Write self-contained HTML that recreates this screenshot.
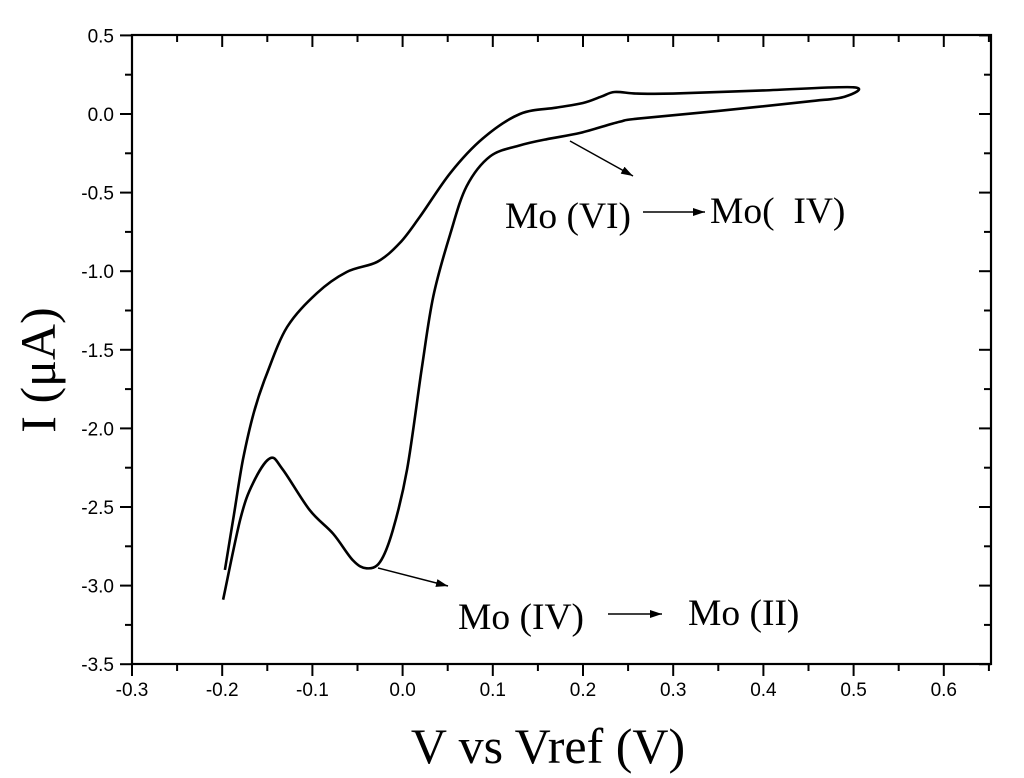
<!DOCTYPE html>
<html><head><meta charset="utf-8"><style>
html,body{margin:0;padding:0;background:#fff;}
svg{display:block;}
.t{font-family:"Liberation Sans",sans-serif;font-size:19px;fill:#000;}
.s{font-family:"Liberation Serif",serif;fill:#000;}
</style></head><body>
<svg id="c" width="1024" height="778">
<defs><marker id="ah" markerWidth="12" markerHeight="8" refX="12" refY="4" orient="auto" markerUnits="userSpaceOnUse"><path d="M0,0 L12,4 L0,8 z" fill="#000"/></marker></defs>
<g id="axes"></g>
<path id="curve" fill="none" stroke="#000" stroke-width="2.6" stroke-linejoin="round"/>
<line x1="570" y1="141" x2="633" y2="176" stroke="#000" stroke-width="1.5" marker-end="url(#ah)"/>
<text class="s" x="505" y="228" font-size="37.5">Mo (VI)</text>
<line x1="643" y1="212" x2="705" y2="212" stroke="#000" stroke-width="1.5" marker-end="url(#ah)"/>
<text class="s" x="710" y="223" font-size="37.5" xml:space="preserve">Mo(  IV)</text>
<line x1="378" y1="568" x2="448" y2="586" stroke="#000" stroke-width="1.5" marker-end="url(#ah)"/>
<text class="s" x="458" y="629" font-size="37.5">Mo (IV)</text>
<line x1="608" y1="614" x2="662" y2="614" stroke="#000" stroke-width="1.5" marker-end="url(#ah)"/>
<text class="s" x="688" y="625" font-size="37.5">Mo (II)</text>
<text class="s" x="548" y="763" font-size="50" text-anchor="middle">V vs Vref (V)</text>
<text class="s" x="0" y="0" font-size="50" text-anchor="middle" transform="translate(55,370) rotate(-90)">I (μA)</text>
</svg>
<script>
const xTicks=[-0.3,-0.2,-0.1,0.0,0.1,0.2,0.3,0.4,0.5,0.6];
const xTickLabels=["-0.3","-0.2","-0.1","0.0","0.1","0.2","0.3","0.4","0.5","0.6"];
const yTicks=[0.5,0.0,-0.5,-1.0,-1.5,-2.0,-2.5,-3.0,-3.5];
const yTickLabels=["0.5","0.0","-0.5","-1.0","-1.5","-2.0","-2.5","-3.0","-3.5"];
const cvV=[-0.197,-0.187,-0.177,-0.165,-0.151,-0.128,-0.095,-0.062,-0.028,-0.003,0.019,0.053,0.089,0.13,0.17,0.2,0.22,0.235,0.26,0.3,0.4,0.5,0.49,0.45,0.35,0.26,0.24,0.197,0.16,0.13,0.097,0.071,0.053,0.034,0.021,0.005,-0.011,-0.025,-0.04,-0.055,-0.077,-0.103,-0.133,-0.147,-0.166,-0.18,-0.199];
const cvI=[-2.9,-2.55,-2.2,-1.9,-1.66,-1.355,-1.14,-1.005,-0.94,-0.82,-0.655,-0.375,-0.155,0.0,0.04,0.07,0.11,0.14,0.13,0.13,0.15,0.17,0.11,0.08,0.02,-0.03,-0.05,-0.12,-0.16,-0.2,-0.27,-0.46,-0.76,-1.16,-1.63,-2.26,-2.65,-2.85,-2.89,-2.84,-2.67,-2.52,-2.26,-2.19,-2.35,-2.58,-3.09];
const L=132,R=991,T=35,B=664;
const X=v=>L+(v+0.3)*902;
const Y=v=>114-v*157.2;
const NS="http://www.w3.org/2000/svg";
const ax=document.getElementById('axes');
function ln(x1,y1,x2,y2,w,n){const e=document.createElementNS(NS,'line');e.setAttribute('x1',x1);e.setAttribute('y1',y1);e.setAttribute('x2',x2);e.setAttribute('y2',y2);e.setAttribute('stroke','#000');e.setAttribute('stroke-width',w);


ax.appendChild(e);}
function tx(x,y,s,a,n){const e=document.createElementNS(NS,'text');e.setAttribute('x',x);e.setAttribute('y',y);e.setAttribute('class','t');e.setAttribute('text-anchor',a);e.textContent=s;


ax.appendChild(e);}
const fr=document.createElementNS(NS,'rect');fr.setAttribute('x',L);fr.setAttribute('y',T);fr.setAttribute('width',R-L);fr.setAttribute('height',B-T);fr.setAttribute('fill','none');fr.setAttribute('stroke','#000');fr.setAttribute('stroke-width',2.2);


ax.appendChild(fr);
xTicks.forEach((v,i)=>{const x=X(v);ln(x,B,x,B+12,2,'x-tick');ln(x,T,x,T+12,2,'x-tick-top');tx(x,B+32,xTickLabels[i],'middle','x-tick-label');
const xm=X(v+0.05);if(xm<R){ln(xm,B,xm,B+7,2,'x-minor-tick');ln(xm,T,xm,T+7,2,'x-minor-tick-top');}});
yTicks.forEach((v,i)=>{const y=Y(v);ln(L-12,y,L,y,2,'y-tick');ln(R-12,y,R,y,2,'y-tick-right');tx(L-18,y+7,yTickLabels[i],'end','y-tick-label');
if(v>-3.5){const ym=Y(v-0.25);ln(L-7,ym,L,ym,2,'y-minor-tick');ln(R-7,ym,R,ym,2,'y-minor-tick-right');}});
const P=cvV.map((v,i)=>[X(v),Y(cvI[i])]);
let d='M'+P[0][0].toFixed(1)+','+P[0][1].toFixed(1);
for(let i=0;i<P.length-1;i++){const p0=P[Math.max(i-1,0)],p1=P[i],p2=P[i+1],p3=P[Math.min(i+2,P.length-1)];
const c1=[p1[0]+(p2[0]-p0[0])/6,p1[1]+(p2[1]-p0[1])/6],c2=[p2[0]-(p3[0]-p1[0])/6,p2[1]-(p3[1]-p1[1])/6];
d+='C'+c1[0].toFixed(1)+','+c1[1].toFixed(1)+' '+c2[0].toFixed(1)+','+c2[1].toFixed(1)+' '+p2[0].toFixed(1)+','+p2[1].toFixed(1);}
document.getElementById('curve').setAttribute('d',d);
</script>
</body></html>
